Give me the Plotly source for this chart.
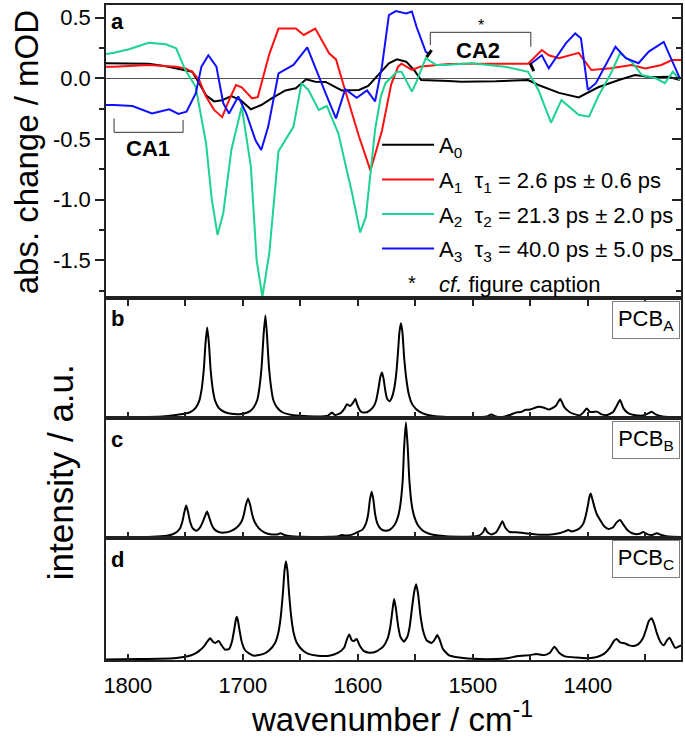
import plotly.graph_objects as go
from plotly.subplots import make_subplots

FONT = "Liberation Sans, Arial, Helvetica, sans-serif"

# ---------------- panel a: decay-associated spectra (mOD) ----------------
WN_A0 = [1819, 1812, 1782, 1767, 1753, 1744, 1738, 1732, 1725, 1718, 1710, 1702, 1693, 1684, 1675,
         1663, 1654, 1645, 1637, 1628, 1614, 1599, 1591, 1582, 1573, 1566, 1558, 1551, 1545, 1521,
         1510, 1480, 1452, 1443, 1425, 1408, 1401, 1391, 1373, 1359, 1345, 1330, 1320]
A0 = [0.125, 0.124, 0.12, 0.10, 0.074, 0.054, -0.04, -0.14, -0.19, -0.18, -0.146, -0.18, -0.255, -0.22, -0.165,
      -0.10, -0.082, -0.008, -0.028, -0.03, -0.10, -0.096, -0.063, 0.027, 0.124, 0.156, 0.137, 0.068, -0.014, -0.022,
      -0.028, -0.025, -0.014, -0.055, -0.12, -0.157, -0.12, -0.074, -0.014, 0.027, 0.008, 0.013, -0.014]

WN_A1 = [1819, 1812, 1782, 1758, 1750, 1744, 1738, 1732, 1725, 1718, 1712, 1706, 1701, 1692, 1687,
         1682, 1677, 1669, 1654, 1647, 1637, 1625, 1619, 1611, 1599, 1589, 1579, 1571, 1565, 1562,
         1553, 1545, 1521, 1500, 1470, 1452, 1440, 1434, 1425, 1408, 1397, 1380, 1362, 1350, 1336, 1327, 1319]
A1 = [0.095, 0.096, 0.11, 0.096, 0.082, 0.054, -0.014, -0.15, -0.26, -0.32, -0.18, -0.055, -0.074, -0.165, -0.155,
      0.013, 0.2, 0.41, 0.41, 0.357, 0.41, 0.206, 0.156, -0.1, -0.48, -0.76, -0.43, -0.05, 0.096, 0.12,
      0.07, 0.098, 0.118, 0.12, 0.118, 0.12, 0.233, 0.19, 0.165, 0.21, 0.068, 0.082, 0.11, 0.082, 0.11, 0.15, 0.15]

WN_A2 = [1819, 1812, 1799, 1782, 1767, 1758, 1750, 1741, 1732, 1727, 1722, 1717, 1710, 1701, 1693,
         1688, 1683, 1677, 1669, 1656, 1649, 1643, 1634, 1627, 1617, 1605, 1598, 1593, 1585, 1580,
         1576, 1566, 1562, 1553, 1549, 1541, 1532, 1524, 1501, 1472, 1452, 1443, 1432, 1423, 1408,
         1399, 1391, 1380, 1372, 1362, 1353, 1341, 1333, 1326, 1320]
A2 = [0.2, 0.21, 0.24, 0.293, 0.28, 0.247, 0.068, -0.07, -0.535, -1.0, -1.29, -1.11, -0.59, -0.234, -0.73,
      -1.5, -1.80, -1.44, -0.6, -0.4, -0.04, -0.096, -0.26, -0.228, -0.453, -0.947, -1.27, -1.14, -0.42, -0.15,
      -0.04, 0.054, 0.054, -0.11, -0.028, 0.165, 0.11, 0.11, 0.124, 0.096, 0.054, -0.096, -0.366, -0.18, -0.3,
      -0.316, -0.15, 0.04, 0.206, 0.137, 0.027, 0.0, -0.04, 0.054, -0.014]

WN_A3 = [1819, 1812, 1796, 1779, 1764, 1756, 1749, 1741, 1736, 1730, 1723, 1717, 1712, 1704, 1697,
         1689, 1684, 1678, 1669, 1656, 1644, 1637, 1628, 1619, 1611, 1601, 1592, 1585, 1579, 1573,
         1567, 1558, 1553, 1549, 1541, 1538.5, None, 1449, 1440, 1434, 1419, 1411, 1406, 1400, 1393,
         1376, 1367, 1356, 1347, 1334, 1327, 1320]
A3 = [-0.22, -0.22, -0.228, -0.29, -0.255, -0.294, -0.275, -0.124, 0.096, 0.19, 0.096, -0.206, -0.29, -0.15, -0.29,
      -0.51, -0.59, -0.4, 0.04, 0.11, 0.255, 0.096, -0.124, -0.33, -0.09, -0.16, -0.10, -0.19, 0.1, 0.52,
      0.554, 0.535, 0.55, 0.425, 0.22, 0.2, None, 0.124, 0.19, 0.082, 0.29, 0.37, 0.33, -0.096, -0.04,
      0.26, 0.165, 0.124, 0.22, 0.3, 0.15, 0.0]

LEGEND_NAMES = [
    "A<sub>0</sub>",
    "A<sub>1</sub>\u00a0\u00a0\u03c4<sub>1</sub> = 2.6 ps \u00b1 0.6 ps",
    "A<sub>2</sub>\u00a0\u00a0\u03c4<sub>2</sub> = 21.3 ps \u00b1 2.0 ps",
    "A<sub>3</sub>\u00a0\u00a0\u03c4<sub>3</sub> = 40.0 ps \u00b1 5.0 ps",
]
CAPTION_NOTE = "<i>cf.</i> figure caption"
COLORS = ["#000000", "#ff1010", "#1ed28f", "#1010ff"]

# ---------------- panels b-d: calculated IR spectra (wavenumber, intensity a.u.) ----------------
PCB_A_SPEC = [
    (1819, 0.005), (1790, 0.008), (1770, 0.013), (1758, 0.025), (1751, 0.035), (1746, 0.048), (1741, 0.085),
    (1738, 0.14), (1736, 0.23), (1734, 0.4), (1732.5, 0.62), (1731, 0.755), (1729.5, 0.62), (1728, 0.4),
    (1726, 0.23), (1724, 0.14), (1721, 0.085), (1716, 0.05), (1710, 0.035), (1703, 0.032), (1698, 0.04),
    (1694, 0.055), (1690.5, 0.09), (1687.5, 0.15), (1685.5, 0.26), (1683.5, 0.45), (1682, 0.69), (1680.4, 0.855),
    (1679, 0.69), (1677.5, 0.45), (1675.5, 0.26), (1673.5, 0.15), (1670.5, 0.09), (1666, 0.05), (1660, 0.03),
    (1650, 0.018), (1635, 0.013), (1626, 0.02), (1622.5, 0.045), (1620, 0.025), (1615, 0.04), (1611.5, 0.08),
    (1609.5, 0.115), (1607, 0.1), (1604, 0.13), (1602.2, 0.16), (1600.5, 0.11), (1597.5, 0.055), (1594, 0.045),
    (1590, 0.06), (1586, 0.1), (1584, 0.15), (1582, 0.25), (1580.5, 0.34), (1579, 0.38), (1577.5, 0.32),
    (1576, 0.22), (1574.5, 0.16), (1572.5, 0.14), (1570.5, 0.17), (1568.5, 0.24), (1566.5, 0.38), (1565, 0.56),
    (1563.8, 0.72), (1562.5, 0.79), (1561.2, 0.71), (1559.7, 0.5), (1557.5, 0.3), (1555.5, 0.19), (1553, 0.12),
    (1549, 0.07), (1544, 0.04), (1537, 0.02), (1520, 0.006), (1500, 0.004), (1488, 0.012), (1484, 0.03),
    (1480, 0.012), (1474, 0.008), (1468, 0.025), (1462, 0.047), (1458, 0.05), (1454, 0.068), (1450, 0.07),
    (1446, 0.085), (1443, 0.094), (1438, 0.085), (1434, 0.07), (1428, 0.1), (1424, 0.158), (1420.5, 0.09),
    (1416, 0.05), (1411, 0.03), (1407, 0.022), (1404, 0.045), (1401, 0.08), (1398, 0.05), (1395, 0.05),
    (1392, 0.053), (1388, 0.03), (1383, 0.025), (1378, 0.05), (1375, 0.1), (1372, 0.15), (1369, 0.08),
    (1365, 0.04), (1360, 0.025), (1352, 0.02), (1347, 0.04), (1344.5, 0.053), (1341, 0.03), (1335, 0.012),
    (1319, 0.005),
]

PCB_B_SPEC = [
    (1819, 0.003), (1790, 0.006), (1775, 0.012), (1765, 0.02), (1759, 0.04), (1755, 0.075), (1752.5, 0.14),
    (1751, 0.21), (1749.3, 0.27), (1747.5, 0.21), (1746, 0.14), (1743.5, 0.08), (1740.5, 0.06), (1737, 0.09),
    (1735, 0.13), (1733, 0.18), (1731.1, 0.22), (1729.2, 0.17), (1727.5, 0.12), (1725, 0.075), (1721, 0.05),
    (1716, 0.045), (1710, 0.06), (1705, 0.09), (1701, 0.14), (1699, 0.2), (1697.5, 0.27), (1695.5, 0.33),
    (1693.5, 0.27), (1692, 0.2), (1690, 0.14), (1686, 0.08), (1681, 0.045), (1675, 0.03), (1670, 0.03),
    (1667.3, 0.04), (1664, 0.025), (1658, 0.014), (1640, 0.008), (1625, 0.01), (1617, 0.015), (1614, 0.025),
    (1611, 0.02), (1605, 0.028), (1600, 0.05), (1596, 0.07), (1593, 0.12), (1591, 0.2), (1589.5, 0.32),
    (1588, 0.386), (1586.5, 0.32), (1585, 0.2), (1583, 0.12), (1580, 0.075), (1576, 0.06), (1572, 0.07),
    (1568, 0.11), (1565, 0.18), (1563, 0.28), (1561, 0.48), (1559.8, 0.75), (1558.2, 0.964), (1556.6, 0.75),
    (1555.2, 0.48), (1553.2, 0.28), (1551, 0.18), (1548, 0.11), (1544, 0.065), (1538, 0.035), (1530, 0.02),
    (1510, 0.01), (1495, 0.02), (1491, 0.05), (1489.4, 0.086), (1487.5, 0.05), (1484, 0.03), (1480, 0.045),
    (1476.5, 0.1), (1474.3, 0.14), (1472, 0.09), (1468, 0.05), (1462, 0.048), (1455, 0.04), (1445, 0.03),
    (1432, 0.03), (1425, 0.04), (1420, 0.055), (1417, 0.066), (1414, 0.055), (1410, 0.065), (1406.7, 0.085),
    (1404, 0.12), (1402, 0.18), (1400, 0.27), (1398.5, 0.35), (1397.5, 0.37), (1396, 0.32), (1394, 0.25),
    (1392.3, 0.2), (1390, 0.16), (1386, 0.1), (1382, 0.075), (1378, 0.09), (1375, 0.13), (1372, 0.15),
    (1369, 0.11), (1365, 0.06), (1360, 0.035), (1355, 0.035), (1351.7, 0.05), (1348, 0.03), (1344, 0.025),
    (1340, 0.04), (1336, 0.025), (1330, 0.012), (1319, 0.008),
]

PCB_C_SPEC = [
    (1819, 0.005), (1790, 0.008), (1760, 0.015), (1748, 0.03), (1742, 0.05), (1738, 0.075), (1734, 0.11),
    (1731, 0.15), (1728.5, 0.178), (1726, 0.15), (1724, 0.14), (1721, 0.156), (1718.5, 0.12), (1715.5, 0.085),
    (1712, 0.09), (1709.5, 0.15), (1707.5, 0.25), (1706.3, 0.32), (1705.3, 0.355), (1704.2, 0.32), (1703, 0.25),
    (1701, 0.15), (1698, 0.08), (1694, 0.05), (1690, 0.035), (1682, 0.05), (1677, 0.08), (1672, 0.14),
    (1669, 0.23), (1667, 0.36), (1665, 0.57), (1663.8, 0.73), (1662.5, 0.81), (1661.2, 0.73), (1660, 0.57),
    (1658, 0.36), (1656, 0.23), (1653, 0.14), (1648, 0.08), (1643, 0.05), (1635, 0.035), (1625, 0.035),
    (1617, 0.06), (1612, 0.1), (1609.5, 0.17), (1607.5, 0.21), (1605.5, 0.165), (1603.5, 0.155), (1601, 0.172),
    (1598.5, 0.12), (1595, 0.075), (1590, 0.06), (1584, 0.07), (1578, 0.11), (1574, 0.18), (1572, 0.26),
    (1570, 0.4), (1568.5, 0.5), (1567, 0.43), (1565, 0.28), (1563, 0.19), (1560, 0.15), (1557, 0.19),
    (1555, 0.27), (1553, 0.42), (1551, 0.56), (1549.3, 0.62), (1547.6, 0.54), (1545.5, 0.36), (1543, 0.23),
    (1540, 0.16), (1536, 0.14), (1533, 0.17), (1531, 0.205), (1529, 0.17), (1526, 0.09), (1521, 0.04),
    (1515, 0.025), (1500, 0.01), (1480, 0.008), (1470, 0.015), (1462, 0.03), (1457, 0.035), (1450, 0.04),
    (1445, 0.05), (1438, 0.04), (1433, 0.06), (1429, 0.109), (1425, 0.06), (1420, 0.03), (1410, 0.02),
    (1400, 0.015), (1392, 0.025), (1386, 0.05), (1381, 0.1), (1377, 0.16), (1375, 0.172), (1372, 0.145),
    (1368, 0.137), (1364, 0.12), (1360, 0.115), (1356, 0.13), (1352, 0.18), (1349, 0.26), (1347, 0.32),
    (1344.5, 0.342), (1342.5, 0.3), (1340, 0.22), (1337, 0.15), (1334, 0.12), (1331, 0.165), (1329, 0.183),
    (1327, 0.15), (1324, 0.1), (1319, 0.12),
]

PANEL_TAGS = ["a", "b", "c", "d"]
SPECIES = ["PCB<sub>A</sub>", "PCB<sub>B</sub>", "PCB<sub>C</sub>"]

X_RANGE = [1819, 1319]
YA_RANGE = [-1.81, 0.604]
YA_TICKS = [-1.5, -1.0, -0.5, 0.0, 0.5]
YA_TICKTEXT = ["-1.5", "-1.0", "-0.5", "0.0", "0.5"]
YA_MINOR = [-1.75, -1.25, -0.75, -0.25, 0.25]

# ---------------- figure ----------------
W, H = 685, 738
ML, MR, MT, MB = 106, 2, 5, 78
PW, PH = W - ML - MR, H - MT - MB


def pxx(x):
    return (x - ML) / PW


def pxy(y):
    return 1 - (y - MT) / PH


fig = make_subplots(rows=4, cols=1, shared_xaxes=True, vertical_spacing=0,
                    row_heights=[293, 120, 120, 122])

series = [(WN_A0, A0), (WN_A1, A1), (WN_A2, A2), (WN_A3, A3)]
for i, (wn, val) in enumerate(series):
    fig.add_trace(go.Scatter(x=wn, y=val, mode="lines", name=LEGEND_NAMES[i],
                             legendgroup="g%d" % i,
                             line=dict(color=COLORS[i], width=2)), row=1, col=1)
fig.add_trace(go.Scatter(x=[None], y=[None], mode="lines", name=CAPTION_NOTE, legendgroup="cf",
                         line=dict(color="rgba(0,0,0,0)", width=2)), row=1, col=1)

for r, spec in enumerate([PCB_A_SPEC, PCB_B_SPEC, PCB_C_SPEC], start=2):
    wn = [p[0] for p in spec]
    val = [p[1] for p in spec]
    fig.add_trace(go.Scatter(x=wn, y=val, mode="lines", showlegend=False,
                             line=dict(color="black", width=2, shape="spline", smoothing=0.5)),
                  row=r, col=1)

# invisible trace for right-hand inside ticks of panel a
fig.add_trace(go.Scatter(x=[None], y=[None], xaxis="x", yaxis="y5", showlegend=False, hoverinfo="skip"))

AX = dict(showline=True, mirror=True, linecolor="#222", linewidth=1.5, showgrid=False, zeroline=False)
TICKFONT = dict(size=22, family=FONT, color="black")

for r in range(1, 5):
    tdir = "outside" if r == 1 else "inside"
    fig.update_xaxes(row=r, col=1, range=X_RANGE, tickmode="linear", tick0=1800, dtick=100,
                     ticks=tdir, ticklen=6, tickwidth=1.5, tickcolor="#222",
                     minor=dict(ticks=tdir, tick0=1750, dtick=100, ticklen=6, tickwidth=1.5, tickcolor="#222"),
                     showticklabels=(r == 4), tickfont=TICKFONT, ticklabelstandoff=5, **AX)

fig.update_yaxes(row=1, col=1, range=YA_RANGE, tickvals=YA_TICKS, ticktext=YA_TICKTEXT,
                 ticks="outside", ticklen=9, tickwidth=1.5, tickcolor="#222",
                 minor=dict(tickvals=YA_MINOR, ticks="outside", ticklen=5, tickwidth=1.5, tickcolor="#222"),
                 tickfont=TICKFONT, showline=True, mirror=True, linecolor="#222", linewidth=1.5,
                 showgrid=False, zeroline=True, zerolinecolor="#555", zerolinewidth=1)
for r in range(2, 5):
    fig.update_yaxes(row=r, col=1, range=[0, 1.0], showticklabels=False, ticks="", **AX)

fig.update_layout(
    yaxis5=dict(overlaying="y", side="right", anchor="x", range=YA_RANGE, tickvals=YA_TICKS,
                ticks="inside", ticklen=9, tickwidth=1.5, tickcolor="#222", showticklabels=False,
                minor=dict(tickvals=YA_MINOR, ticks="inside", ticklen=5, tickwidth=1.5, tickcolor="#222"),
                showgrid=False, zeroline=False, showline=False),
)

ann = []
# panel tags
for tag, yc in zip(PANEL_TAGS, [22, 319, 439, 559]):
    ann.append(dict(text="<b>%s</b>" % tag, xref="paper", yref="paper", x=pxx(109), y=pxy(yc),
                    xanchor="left", yanchor="middle", showarrow=False,
                    font=dict(size=22, family=FONT, color="black")))
# species boxes
for sp, ytop in zip(SPECIES, [301, 421, 540]):
    ann.append(dict(text=sp, xref="paper", yref="paper", x=pxx(682), y=pxy(ytop),
                    xanchor="right", yanchor="top", showarrow=False, width=64, height=34,
                    bordercolor="#808080", borderwidth=1, borderpad=1, bgcolor="white",
                    font=dict(size=22, family=FONT, color="black")))
# CA labels
ann.append(dict(text="<b>CA1</b>", xref="paper", yref="paper", x=pxx(148), y=pxy(149),
                xanchor="center", yanchor="middle", showarrow=False,
                font=dict(size=22, family=FONT, color="black")))
ann.append(dict(text="<b>CA2</b>", xref="paper", yref="paper", x=pxx(479), y=pxy(51),
                xanchor="center", yanchor="middle", showarrow=False,
                font=dict(size=22, family=FONT, color="black")))
ann.append(dict(text="*", xref="paper", yref="paper", x=pxx(482), y=pxy(25),
                xanchor="center", yanchor="middle", showarrow=False,
                font=dict(size=16, family=FONT, color="black")))
ann.append(dict(text="*", xref="paper", yref="paper", x=pxx(413), y=pxy(283),
                xanchor="center", yanchor="middle", showarrow=False,
                font=dict(size=20, family=FONT, color="black")))
# axis titles
ann.append(dict(text="abs. change / mOD", xref="paper", yref="paper", x=pxx(27), y=pxy(152),
                xanchor="center", yanchor="middle", textangle=-90, showarrow=False,
                font=dict(size=33, family=FONT, color="black")))
ann.append(dict(text="intensity / a.u.", xref="paper", yref="paper", x=pxx(60), y=pxy(472),
                xanchor="center", yanchor="middle", textangle=-90, showarrow=False,
                font=dict(size=35, family=FONT, color="black")))
ann.append(dict(text="wavenumber / cm<sup>-1</sup>", xref="paper", yref="paper", x=pxx(393), y=pxy(717),
                xanchor="center", yanchor="middle", showarrow=False,
                font=dict(size=33, family=FONT, color="black")))

shapes = [
    dict(type="path", xref="x", yref="y", path="M 1812 -0.33 L 1812 -0.445 L 1752 -0.445 L 1752 -0.343",
         line=dict(color="#333", width=1)),
    dict(type="path", xref="x", yref="y", path="M 1537 0.274 L 1537 0.379 L 1449.6 0.379 L 1449.6 0.26",
         line=dict(color="#333", width=1)),
    dict(type="line", xref="x", yref="y", x0=1540.2, y0=0.175, x1=1535.9, y1=0.233,
         line=dict(color="black", width=3)),
    dict(type="line", xref="x", yref="y", x0=1450.2, y0=0.126, x1=1447.0, y1=0.06,
         line=dict(color="black", width=3)),
]

fig.update_layout(
    width=W, height=H, margin=dict(l=ML, r=MR, t=MT, b=MB),
    paper_bgcolor="white", plot_bgcolor="white",
    font=dict(family=FONT, color="black"),
    showlegend=True,
    legend=dict(x=pxx(378), y=pxy(124), xanchor="left", yanchor="top", bgcolor="rgba(0,0,0,0)",
                font=dict(size=22, family=FONT, color="black"), tracegroupgap=3, itemwidth=52),
    annotations=ann, shapes=shapes,
)

fig.write_html("out.html", config={"displayModeBar": False},
               post_script="document.body.style.margin='0px';document.body.style.overflow='hidden';")
